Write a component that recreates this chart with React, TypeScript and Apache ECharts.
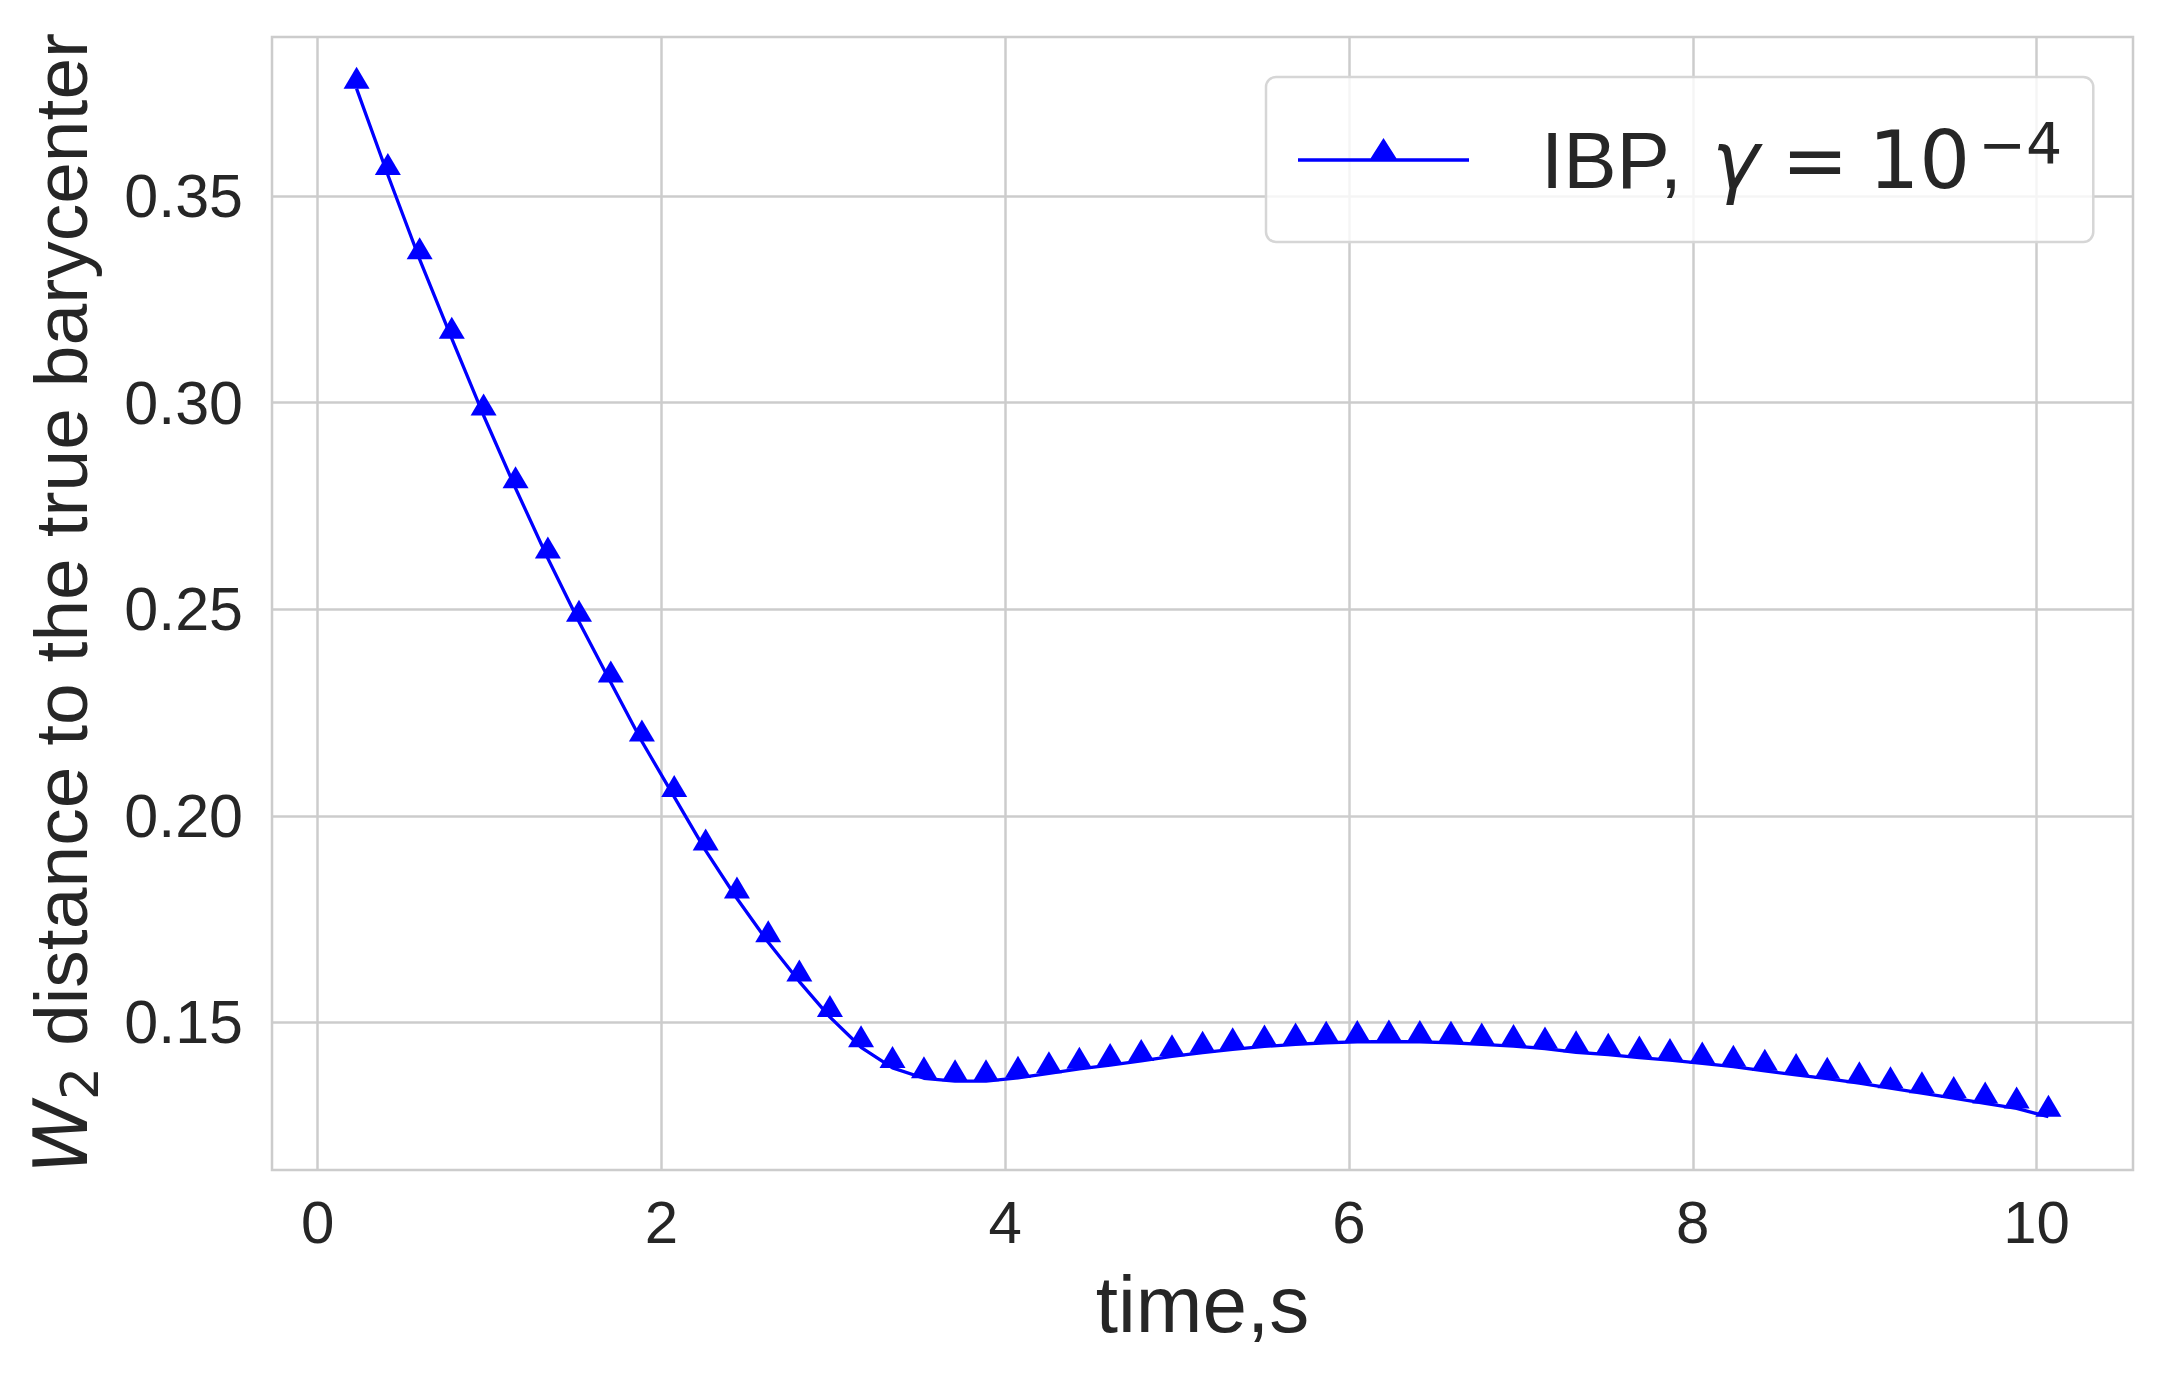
import React, { useEffect, useRef } from "react";
import * as echarts from "echarts";

// time (s) of each recorded iterate
const timeSec = [
  0.226, 0.408, 0.593, 0.78, 0.965, 1.151, 1.339, 1.52, 1.705, 1.886,
  2.074, 2.257, 2.439, 2.621, 2.802, 2.98, 3.161, 3.344, 3.527, 3.708,
  3.888, 4.074, 4.254, 4.431, 4.61, 4.791, 4.97, 5.148, 5.323, 5.508,
  5.689, 5.867, 6.048, 6.232, 6.412, 6.593, 6.772, 6.957, 7.14, 7.321,
  7.508, 7.689, 7.867, 8.055, 8.236, 8.419, 8.601, 8.782, 8.969, 9.15,
  9.333, 9.518, 9.701, 9.884, 10.069,
];

// W2 distance to the true barycenter
const w2Distance = [
  0.376, 0.3551, 0.3347, 0.3155, 0.2969, 0.2793, 0.2623, 0.247, 0.2323, 0.218,
  0.2046, 0.1916, 0.18, 0.1694, 0.1599, 0.1513, 0.144, 0.139, 0.1365, 0.1358,
  0.1358, 0.1366, 0.1377, 0.1388, 0.1397, 0.1407, 0.1418, 0.1427, 0.1435, 0.1442,
  0.1447, 0.1451, 0.1453, 0.1454, 0.1453, 0.1451, 0.1447, 0.1443, 0.1437, 0.1428,
  0.1422, 0.1415, 0.1409, 0.1401, 0.1393, 0.1383, 0.1373, 0.1364, 0.1353, 0.1341,
  0.1329, 0.1317, 0.1304, 0.1292, 0.1272,
];

const xTicks = [0, 2, 4, 6, 8, 10];
const yTicks = [0.15, 0.2, 0.25, 0.3, 0.35];
const seriesName = "IBP, γ = 10^-4";

const TEXT = "#262626";
const GRID = "#cccccc";
const BLUE = "#0000ff";
const SANS = "'Liberation Sans', Arial, sans-serif";
const MATH = "'DejaVu Sans', sans-serif";

export default function App() {
  const ref = useRef<HTMLDivElement>(null);

  useEffect(() => {
    if (!ref.current) return;
    const chart = echarts.init(ref.current, null, { renderer: "svg" });
    const data = timeSec.map((t, i) => [t, w2Distance[i]]);

    chart.setOption({
      animation: false,
      backgroundColor: "#ffffff",
      grid: {
        left: 272,
        right: 29,
        top: 37,
        bottom: 207,
        show: true,
        borderColor: GRID,
        borderWidth: 2.5,
        backgroundColor: "transparent",
      },
      xAxis: {
        type: "value",
        min: -0.266,
        max: 10.561,
        axisLine: { show: false },
        axisTick: { show: false, customValues: xTicks },
        axisLabel: {
          customValues: xTicks,
          fontSize: 60,
          color: TEXT,
          fontFamily: SANS,
          margin: 22,
          formatter: (v: number) => String(v),
        },
        splitLine: { show: true, lineStyle: { color: GRID, width: 2.5 } },
        name: "time,s",
        nameLocation: "middle",
        nameGap: 94,
        nameTextStyle: { fontSize: 80, color: TEXT, fontFamily: SANS },
      },
      yAxis: {
        type: "value",
        min: 0.1143,
        max: 0.3885,
        axisLine: { show: false },
        axisTick: { show: false, customValues: yTicks },
        axisLabel: {
          customValues: yTicks,
          fontSize: 61,
          color: TEXT,
          fontFamily: SANS,
          margin: 29,
          formatter: (v: number) => v.toFixed(2),
        },
        splitLine: { show: true, lineStyle: { color: GRID, width: 2.5 } },
        name: "{w|W}{s|2}{t| distance to the true barycenter}",
        nameLocation: "middle",
        nameRotate: 90,
        nameGap: 166,
        nameTextStyle: {
          color: TEXT,
          fontSize: 75,
          lineHeight: 90,
          fontFamily: SANS,
          rich: {
            w: { fontFamily: MATH, fontStyle: "italic", fontSize: 75, lineHeight: 90, color: TEXT },
            s: { fontFamily: MATH, fontSize: 52, lineHeight: 52, verticalAlign: "bottom", color: TEXT },
            t: { fontFamily: SANS, fontSize: 75, lineHeight: 90, color: TEXT },
          },
        },
      },
      legend: {
        data: [seriesName],
        left: 1266,
        top: 77,
        orient: "horizontal",
        padding: [38, 31, 37, 32],
        itemWidth: 171,
        itemHeight: 44,
        icon: "path://M0,20.2L171,20.2L171,23.8L0,23.8Z M71.5,22L85.5,0L99.5,22Z M85.5,44L85.6,44Z",
        itemStyle: { color: BLUE, borderWidth: 0 },
        backgroundColor: "rgba(255,255,255,0.8)",
        borderColor: "#d6d6d6",
        borderWidth: 2.5,
        borderRadius: 10,
        selectedMode: false,
        formatter: () => "{a|IBP, }{g|γ}{e|=}{n|10}{p|−4}",
        textStyle: {
          color: TEXT,
          fontSize: 80,
          lineHeight: 90,
          fontFamily: SANS,
          rich: {
            a: { fontFamily: SANS, fontSize: 80, lineHeight: 90, padding: [0, 8, 0, 67], color: TEXT },
            g: { fontFamily: MATH, fontStyle: "italic", fontSize: 80, lineHeight: 90, color: TEXT },
            e: { fontFamily: MATH, fontSize: 80, lineHeight: 90, padding: [0, 20, 0, 22], color: TEXT },
            n: { fontFamily: MATH, fontSize: 80, lineHeight: 90, color: TEXT },
            p: { fontFamily: MATH, fontSize: 57, lineHeight: 45, verticalAlign: "top", padding: [0, 0, 0, 8], color: TEXT },
          },
        },
      },
      series: [
        {
          type: "line",
          name: seriesName,
          data,
          symbol: "triangle",
          symbolSize: [26, 22],
          symbolOffset: [0, "-50%"],
          showAllSymbol: true,
          lineStyle: { color: BLUE, width: 3.3 },
          itemStyle: { color: BLUE, borderWidth: 0 },
          emphasis: { disabled: true },
        },
      ],
    });

    return () => chart.dispose();
  }, []);

  return (
    <div
      ref={ref}
      style={{ position: "fixed", left: 0, top: 0, width: 2162, height: 1377, background: "#fff" }}
    />
  );
}
